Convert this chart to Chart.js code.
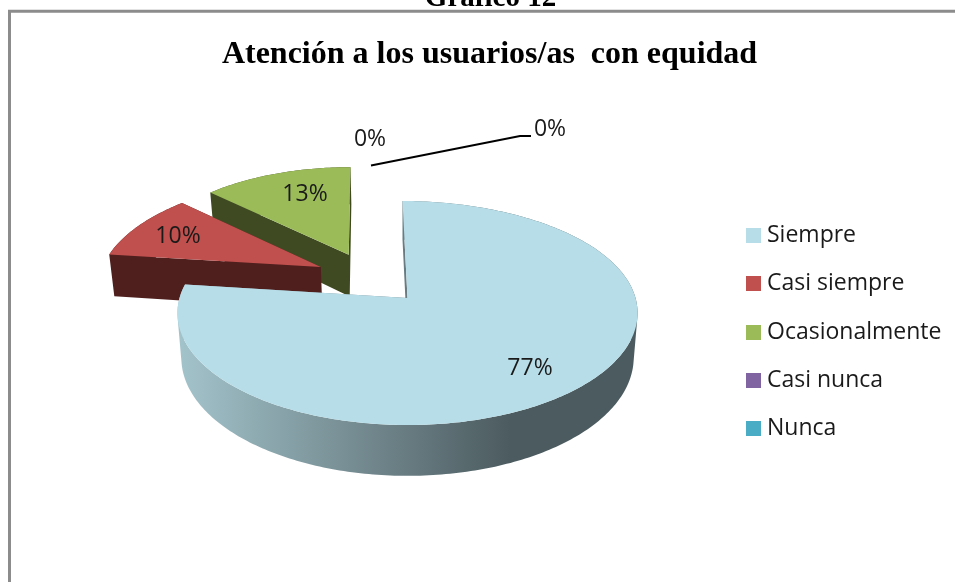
<!DOCTYPE html>
<html><head><meta charset="utf-8">
<style>html,body{margin:0;padding:0;background:#fff}#w{width:955px;height:582px;position:relative}</style>
<script src="https://cdn.jsdelivr.net/npm/chart.js@4"></script>
</head><body><div id="w"><canvas id="c"></canvas></div>
<script>
const categories = ['Siempre','Casi siempre','Ocasionalmente','Casi nunca','Nunca'];
const percentages = [77,10,13,0,0];
const sliceColors = ['#b7dde8','#c0504d','#9bbb59','#8064a2','#4bacc6'];
const wallColors = ['#4c5b5f','#4f1f1e','#3f4a22','#40325a','#255a66'];
const chartTitle = 'Atención a los usuarios/as  con equidad';
const captionText = 'Gráfico 12';
const labelSpots = [[530,368],[178,236],[305,194],[370,139],[550,129]];

const P = {x0:407.5, y0:298, A:110, B:228, p:0.134, depth:44, shrink:0.983, shear:5};
function project(u,v,down){
  const s = 1/(1-P.p*v);
  const k = down?P.shrink:1;
  const lean = v<0 ? P.shear*v*Math.max(0,1-u*u) : 0;
  return [P.x0+(P.B*u*s)*k+lean, P.y0+P.A*v*s+(down?P.depth*s:0)];
}
function swatch(color){
  const cv=document.createElement('canvas');cv.width=15;cv.height=15;
  const g=cv.getContext('2d');g.fillStyle=color;g.fillRect(0,0,15,15);
  return cv;
}
function addQuad(c,q){
  let area=0;
  for(let i=0;i<4;i++){const a=q[i],b=q[(i+1)%4];area+=a[0]*b[1]-b[0]*a[1];}
  const r=area<0?q.slice().reverse():q;
  c.moveTo(...r[0]);c.lineTo(...r[1]);c.lineTo(...r[2]);c.lineTo(...r[3]);c.closePath();
}
const LEGEND_SHIFT = 41;
const pie3d = {
  id:'pie3d',
  beforeDraw(chart){
    const c=chart.ctx; c.save();
    c.fillStyle='#fff'; c.fillRect(0,0,chart.width,chart.height);
    c.strokeStyle='#8c8c8c'; c.lineWidth=3;
    c.beginPath(); c.moveTo(9.5,582); c.lineTo(9.5,11.2); c.lineTo(955,11.2); c.stroke();
    c.fillStyle='#000'; c.font='bold 29px "Liberation Serif"'; c.textAlign='center'; c.textBaseline='alphabetic';
    c.fillText(captionText,490.5,6);
    c.restore();
  },
  afterLayout(chart){
    const l=chart.legend;
    l.left=726.25;
    l.top+=LEGEND_SHIFT; l.bottom+=LEGEND_SHIFT;
  },
  beforeDatasetDraw(chart,args){
    const c=chart.ctx, meta=args.meta;
    const first=meta.data[0];
    const ref=first.options.offset/first.outerRadius;
    const mid0=(first.startAngle+first.endAngle)/2;
    const cu=-Math.cos(mid0)*ref, cv=-Math.sin(mid0)*ref;
    [2,1,0,3,4].forEach(i=>{
      const a=meta.data[i];
      if(a.endAngle-a.startAngle<1e-6) return;
      const o=a.options.offset/a.outerRadius, mid=(a.startAngle+a.endAngle)/2;
      const ou=cu+Math.cos(mid)*o, ov=cv+Math.sin(mid)*o;
      const n=Math.max(12,Math.ceil((a.endAngle-a.startAngle)*60));
      const pts=[[ou,ov]];
      for(let k=0;k<=n;k++){const t=a.startAngle+(a.endAngle-a.startAngle)*k/n;pts.push([ou+Math.cos(t),ov+Math.sin(t)]);}
      let wall=wallColors[i];
      if(i===0){const g=c.createLinearGradient(180,0,510,0);g.addColorStop(0,'#a3c3cb');g.addColorStop(1,'#4c5b5f');wall=g;}
      c.save();
      c.fillStyle=wall;
      c.beginPath();
      pts.forEach((m,k)=>{
        const q=pts[(k+1)%pts.length];
        addQuad(c,[project(m[0],m[1]),project(q[0],q[1]),project(q[0],q[1],true),project(m[0],m[1],true)]);
      });
      c.fill('nonzero');
      c.fillStyle=a.options.backgroundColor;
      c.beginPath();
      pts.forEach((m,k)=>{const r=project(m[0],m[1]);k?c.lineTo(...r):c.moveTo(...r);});
      c.closePath();c.fill();
      c.restore();
    });
    return false;
  },
  afterDatasetsDraw(chart){
    const c=chart.ctx;c.save();
    c.strokeStyle='#000';c.lineWidth=2;
    c.beginPath();c.moveTo(371,165.5);c.lineTo(520,136);c.lineTo(531,136);c.stroke();
    c.fillStyle='#1a1a1a';c.font='23px "Open Sans"';c.textAlign='center';c.textBaseline='middle';
    percentages.forEach((v,i)=>c.fillText(v+'%',labelSpots[i][0],labelSpots[i][1]));
    c.restore();
  }
};
new Chart(document.getElementById('c'),{
  type:'pie',
  data:{labels:categories,datasets:[{data:percentages,backgroundColor:sliceColors,borderWidth:0,offset:55}]},
  plugins:[pie3d],
  options:{
    responsive:true,maintainAspectRatio:false,animation:false,
    layout:{padding:{left:34,right:10,top:0,bottom:0}},
    plugins:{
      tooltip:{enabled:false},
      title:{display:true,text:chartTitle,color:'#000',font:{family:'"Liberation Serif"',weight:'bold',size:32},padding:{top:36,bottom:10}},
      legend:{position:'right',align:'center',labels:{
        color:'#1a1a1a',usePointStyle:true,pointStyleWidth:4,boxHeight:14,padding:25.25,font:{family:'"Open Sans"',size:23},
        generateLabels(chart){
          return Chart.overrides.pie.plugins.legend.labels.generateLabels(chart).map((it,i)=>Object.assign(it,{pointStyle:swatch(sliceColors[i])}));
        }
      }}
    }
  }
});
</script></body></html>
